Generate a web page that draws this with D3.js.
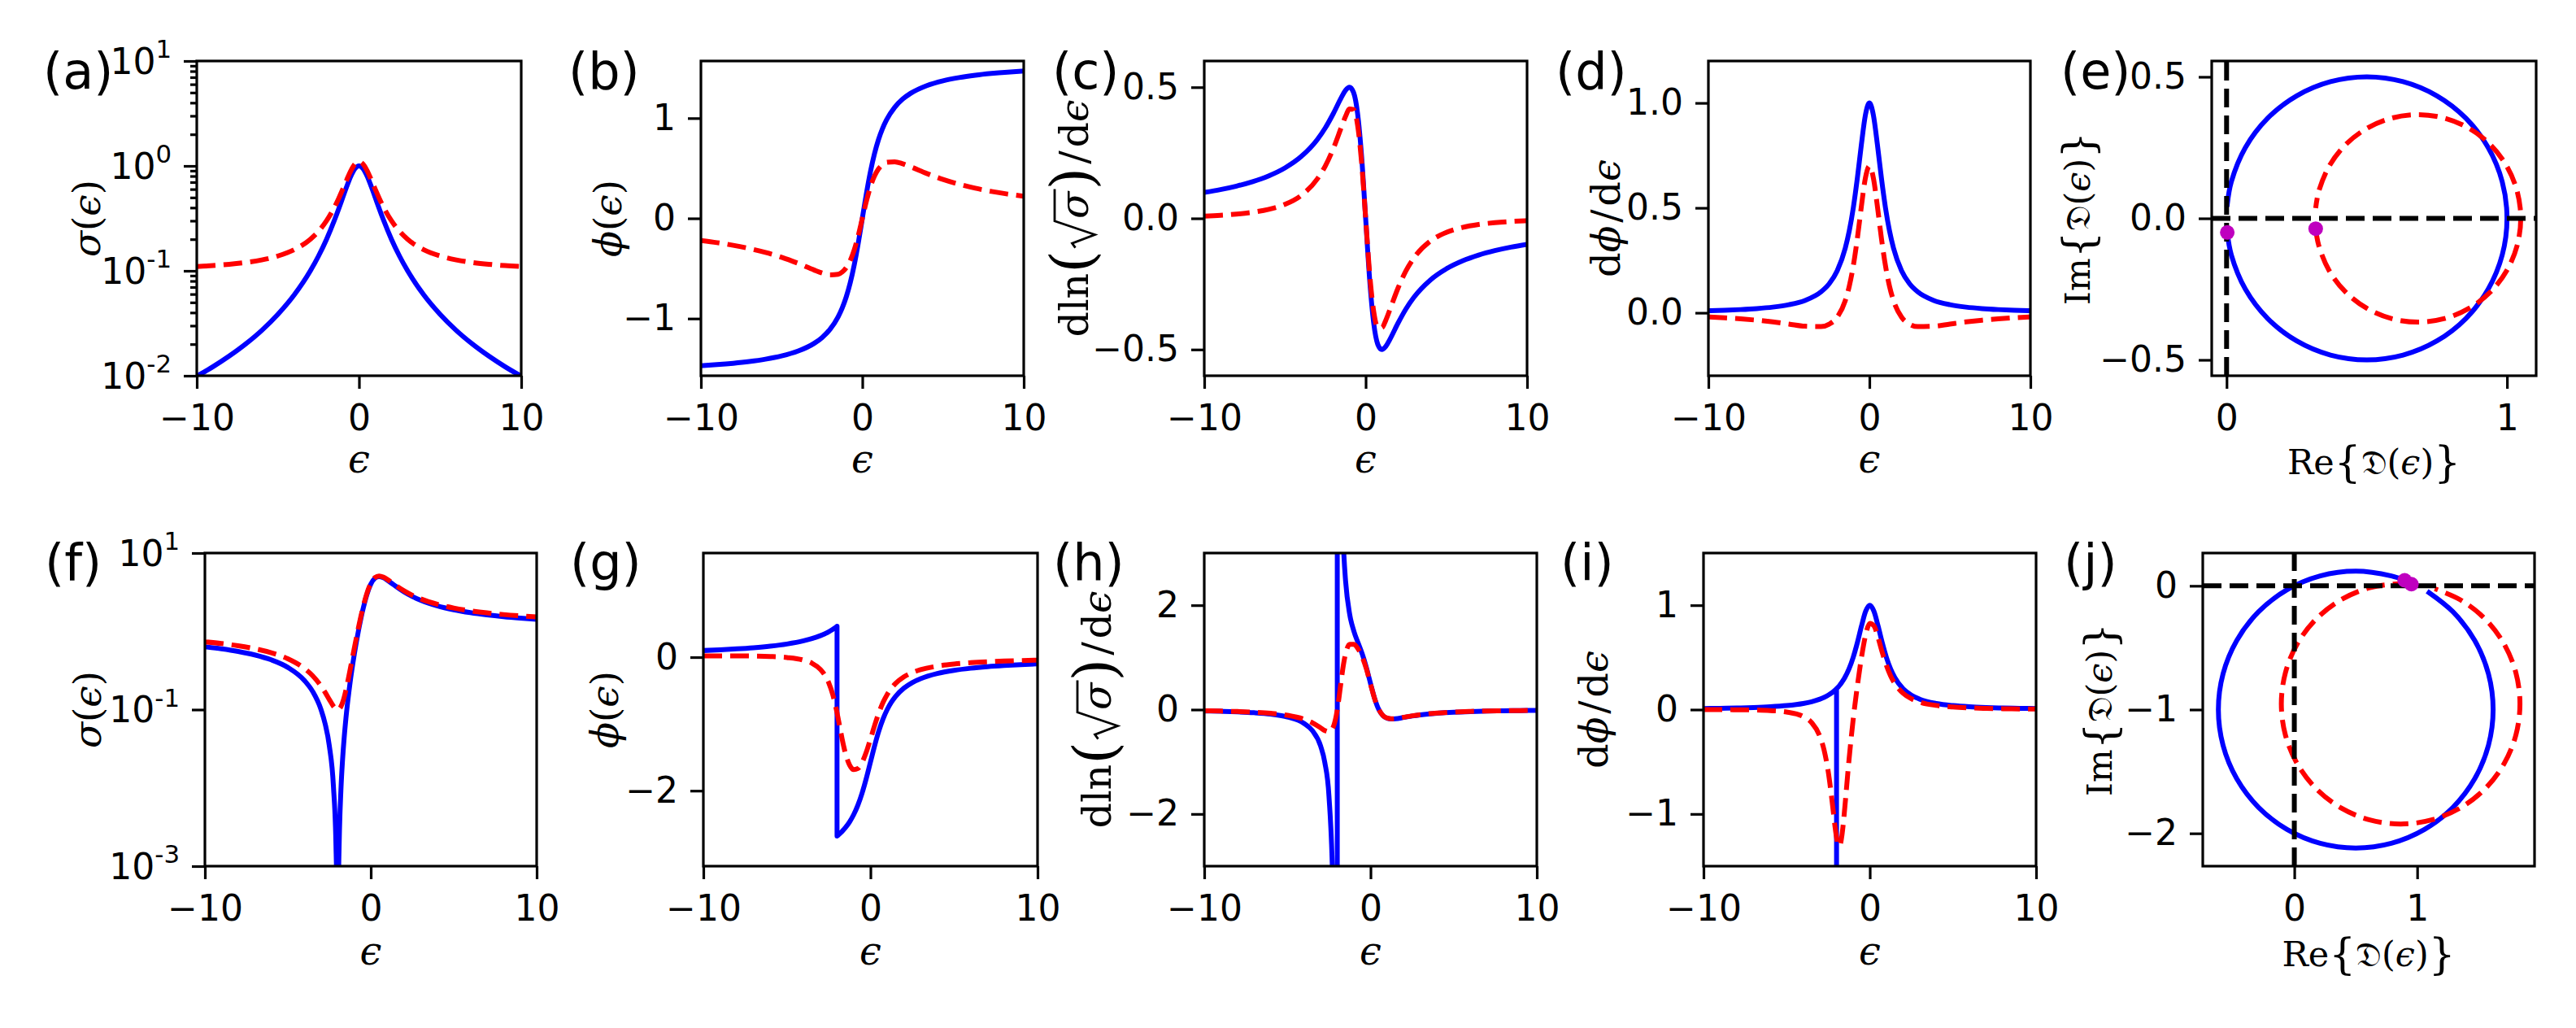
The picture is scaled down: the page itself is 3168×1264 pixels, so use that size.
<!DOCTYPE html>
<html><head><meta charset="utf-8">
<script src="https://cdn.jsdelivr.net/npm/d3@7"></script>
<style>body{margin:0;background:#fff}svg{display:block}</style>
</head><body>
<svg id="c" width="3168" height="1264"></svg>
<script>
// ---------------- DATA ----------------
// top row energy grid
const epsTop = [-10,-9,-8,-7,-6,-5,-4,-3,-2.5,-2,-1.5,-1.25,-1,-0.75,-0.5,-0.25,0,0.25,0.5,0.75,1,1.25,1.5,2,2.5,3,4,5,6,7,8,9,10];
const sigmaBlueTop = [0.0099,0.0122,0.0154,0.02,0.027,0.0385,0.0588,0.1,0.1379,0.2,0.3077,0.3902,0.5,0.64,0.8,0.9412,1,0.9412,0.8,0.64,0.5,0.3902,0.3077,0.2,0.1379,0.1,0.0588,0.0385,0.027,0.02,0.0154,0.0122,0.0099];
const sigmaRedTop = [0.1099,0.1122,0.1154,0.12,0.127,0.1385,0.1588,0.2,0.2379,0.3,0.4077,0.4902,0.6,0.74,0.9,1.0412,1.1,1.0412,0.9,0.74,0.6,0.4902,0.4077,0.3,0.2379,0.2,0.1588,0.1385,0.127,0.12,0.1154,0.1122,0.1099];
const phiBlueTop = [-1.4711,-1.4601,-1.4464,-1.4289,-1.4056,-1.3734,-1.3258,-1.249,-1.1903,-1.1071,-0.9828,-0.8961,-0.7854,-0.6435,-0.4636,-0.245,0,0.245,0.4636,0.6435,0.7854,0.8961,0.9828,1.1071,1.1903,1.249,1.3258,1.3734,1.4056,1.4289,1.4464,1.4601,1.4711];
const phiRedTop = [-0.2209,-0.2427,-0.269,-0.301,-0.3403,-0.3887,-0.4478,-0.5144,-0.545,-0.5648,-0.5587,-0.5358,-0.4927,-0.4213,-0.3143,-0.1698,0,0.1698,0.3143,0.4213,0.4927,0.5358,0.5587,0.5648,0.545,0.5144,0.4478,0.3887,0.3403,0.301,0.269,0.2427,0.2209];
const dlnBlueTop = [0.099,0.1098,0.1231,0.14,0.1622,0.1923,0.2353,0.3,0.3448,0.4,0.4615,0.4878,0.5,0.48,0.4,0.2353,0,-0.2353,-0.4,-0.48,-0.5,-0.4878,-0.4615,-0.4,-0.3448,-0.3,-0.2353,-0.1923,-0.1622,-0.14,-0.1231,-0.1098,-0.099];
const dlnRedTop = [0.0089,0.0119,0.0164,0.0233,0.0345,0.0534,0.0872,0.15,0.1999,0.2667,0.3483,0.3883,0.4167,0.4151,0.3556,0.2127,0,-0.2127,-0.3556,-0.4151,-0.4167,-0.3883,-0.3483,-0.2667,-0.1999,-0.15,-0.0872,-0.0534,-0.0345,-0.0233,-0.0164,-0.0119,-0.0089];
const dphiBlueTop = [0.0099,0.0122,0.0154,0.02,0.027,0.0385,0.0588,0.1,0.1379,0.2,0.3077,0.3902,0.5,0.64,0.8,0.9412,1,0.9412,0.8,0.64,0.5,0.3902,0.3077,0.2,0.1379,0.1,0.0588,0.0385,0.027,0.02,0.0154,0.0122,0.0099];
const dphiRedTop = [-0.02,-0.0239,-0.0289,-0.0353,-0.0436,-0.0537,-0.064,-0.0658,-0.0543,-0.021,0.0575,0.1264,0.2238,0.3534,0.5054,0.6416,0.6988,0.6416,0.5054,0.3534,0.2238,0.1264,0.0575,-0.021,-0.0543,-0.0658,-0.064,-0.0537,-0.0436,-0.0353,-0.0289,-0.0239,-0.02];
// panel (e): complex plane traces
const reBlueE = [0.0025,0.017,0.067,0.1464,0.25,0.3706,0.5,0.6294,0.75,0.8536,0.933,0.983,1,0.983,0.933,0.8536,0.75,0.6294,0.5,0.3706,0.25,0.1464,0.067,0.017,0.0025];
const imBlueE = [-0.0498,-0.1294,-0.25,-0.3536,-0.433,-0.483,-0.5,-0.483,-0.433,-0.3536,-0.25,-0.1294,0,0.1294,0.25,0.3536,0.433,0.483,0.5,0.483,0.433,0.3536,0.25,0.1294,0.0498];
const reRedE = [0.3178,0.3285,0.3651,0.4233,0.4993,0.5876,0.6825,0.7774,0.8658,0.9417,0.9999,1.0365,1.049,1.0365,0.9999,0.9417,0.8658,0.7774,0.6825,0.5876,0.4993,0.4233,0.3651,0.3285,0.3178];
const imRedE = [-0.0365,-0.0949,-0.1833,-0.2592,-0.3174,-0.354,-0.3665,-0.354,-0.3174,-0.2592,-0.1833,-0.0949,0,0.0949,0.1833,0.2592,0.3174,0.354,0.3665,0.354,0.3174,0.2592,0.1833,0.0949,0.0365];
const dotReE = [0.0025,0.3178];
const dotImE = [-0.0498,-0.0365];

// bottom row grids
const epsBotJ = [-10,-9,-8,-7,-6,-5,-4,-3.5,-3,-2.75,-2.5,-2.25,-2.1,-2.05,-2.02,-2.0001,-2,-1.9999,-1.98,-1.95,-1.9,-1.8,-1.7,-1.6,-1.5,-1.25,-1,-0.75,-0.5,-0.25,0,0.25,0.5,0.75,1,1.25,1.5,2,2.5,3,4,5,6,7,8,9,10];
const epsBot = [-10,-9,-8,-7,-6,-5,-4,-3.5,-3,-2.75,-2.5,-2.25,-2.1,-2.05,-2,-1.95,-1.9,-1.8,-1.7,-1.6,-1.5,-1.25,-1,-0.75,-0.5,-0.25,0,0.25,0.5,0.75,1,1.25,1.5,2,2.5,3,4,5,6,7,8,9,10];
const sigmaBlueBot = [0.6337,0.5976,0.5538,0.5,0.4324,0.3462,0.2353,0.1698,0.1,0.06569,0.03448,0.01031,0.001848,0.000481,0.0000787,2e-9,1e-9,2e-9,0.0000813,0.000521,0.002169,0.009434,0.02314,0.04494,0.07692,0.2195,0.5,1.0,1.8,2.882,4,4.765,5.0,4.84,4.5,4.122,3.769,3.2,2.793,2.5,2.118,1.885,1.73,1.62,1.538,1.476,1.426];
const sigmaRedBot = [0.7337,0.6976,0.6538,0.6,0.5324,0.4462,0.3353,0.2698,0.2,0.1657,0.1345,0.1103,0.1018,0.1005,0.1,0.1005,0.1022,0.1094,0.1231,0.1449,0.1769,0.3195,0.6,1.1,1.9,2.982,4.1,4.865,5.1,4.94,4.6,4.222,3.869,3.3,2.893,2.6,2.218,1.985,1.83,1.72,1.638,1.576,1.526];
const phiBlueBot = [0.0997,0.1107,0.1244,0.1419,0.1651,0.1974,0.245,0.2783,0.3218,0.3488,0.3805,0.4182,0.4444,0.4537,0.4594,0.4636,-1.107,-2.678,-2.6738,-2.6681,-2.6571,-2.6345,-2.6099,-2.583,-2.5536,-2.4669,-2.3562,-2.2143,-2.0344,-1.8158,-1.5708,-1.3258,-1.1071,-0.9273,-0.7854,-0.6747,-0.588,-0.4636,-0.3805,-0.3218,-0.245,-0.1974,-0.1651,-0.1419,-0.1244,-0.1107,-0.0997];
const phiRedBot = [0.0204,0.0204,0.0196,0.0171,0.011,-0.0041,-0.0445,-0.0904,-0.181,-0.2603,-0.3809,-0.566,-0.7173,-0.7741,-0.8334,-0.8968,-0.9608,-1.0914,-1.2187,-1.3358,-1.438,-1.6141,-1.6844,-1.6677,-1.5761,-1.4226,-1.2272,-1.0212,-0.8338,-0.6794,-0.5587,-0.466,-0.3946,-0.295,-0.2311,-0.1877,-0.1337,-0.1024,-0.0822,-0.0683,-0.0583,-0.0506,-0.0447];
const dlnBlueBot = [-0.026,-0.0331,-0.0436,-0.06,-0.0878,-0.141,-0.2647,-0.4025,-0.7,-1.0122,-1.6552,-3.6289,-9.612,-19.606,-49.602,-500,0,500,50.402,20.406,10.412,5.4245,3.7704,2.9494,2.4615,1.8211,1.5,1.28,1.0667,0.8067,0.5,0.2092,0,-0.1164,-0.1667,-0.1801,-0.1758,-0.15,-0.1226,-0.1,-0.0686,-0.0495,-0.0372,-0.0289,-0.0231,-0.0189,-0.0157];
const dlnRedBot = [-0.0225,-0.0284,-0.0369,-0.05,-0.0713,-0.1094,-0.1858,-0.2533,-0.35,-0.4013,-0.4244,-0.3391,-0.1744,-0.0938,0,0.1057,0.2211,0.4676,0.7084,0.9146,1.0702,1.2512,1.25,1.1636,1.0105,0.7797,0.4878,0.2049,0,-0.114,-0.163,-0.1758,-0.1713,-0.1455,-0.1184,-0.0962,-0.0655,-0.047,-0.0351,-0.0272,-0.0217,-0.0177,-0.0146];
const dphiBlueBot = [0.0099,0.0122,0.0154,0.02,0.027,0.0385,0.0588,0.0755,0.1,0.1168,0.1379,0.1649,0.1848,0.1922,0.1968,0.2,-100,0.2,0.2032,0.2082,0.2169,0.2358,0.2571,0.2809,0.3077,0.3902,0.5,0.64,0.8,0.9412,1,0.9412,0.8,0.64,0.5,0.3902,0.3077,0.2,0.1379,0.1,0.0588,0.0385,0.027,0.02,0.0154,0.0122,0.0099];
const dphiRedBot = [0.0003,-0.0003,-0.0014,-0.0038,-0.0093,-0.0232,-0.0666,-0.1244,-0.2572,-0.3867,-0.5944,-0.9022,-1.1099,-1.1724,-1.2266,-1.2693,-1.2975,-1.3015,-1.2323,-1.102,-0.9337,-0.4821,-0.0955,0.2242,0.499,0.7156,0.8256,0.8029,0.6878,0.5474,0.4223,0.3242,0.2508,0.1567,0.1038,0.0725,0.0399,0.0246,0.0165,0.0117,0.0087,0.0067,0.0053];
// panel (j)
const reBlueJ = [0.898,0.7894,0.5,0.2106,-0.059,-0.2906,-0.4682,-0.5799,-0.618,-0.5799,-0.4682,-0.2906,-0.059,0.2106,0.5,0.7894,1.059,1.2906,1.4682,1.5799,1.618,1.5799,1.4682,1.2906,1.097];
const imBlueJ = [0.0449,0.0799,0.118,0.0799,-0.0318,-0.2094,-0.441,-0.7107,-1,-1.2893,-1.559,-1.7906,-1.9682,-2.0799,-2.118,-2.0799,-1.9682,-1.7906,-1.559,-1.2893,-1,-0.7107,-0.441,-0.2094,-0.0549];
const reRedJ = [0.953,0.8654,0.6141,0.3799,0.1788,0.0245,-0.0725,-0.1056,-0.0725,0.0245,0.1788,0.3799,0.6141,0.8654,1.1167,1.3509,1.552,1.7063,1.8033,1.8364,1.8033,1.7063,1.552,1.3509,1.1432];
const imRedJ = [0.0136,0.0175,-0.0156,-0.1126,-0.2669,-0.468,-0.7022,-0.9535,-1.2048,-1.439,-1.6401,-1.7944,-1.8914,-1.9245,-1.8914,-1.7944,-1.6401,-1.439,-1.2048,-0.9535,-0.7022,-0.468,-0.2669,-0.1126,-0.0231];
const dotReJ = [0.898,0.953];
const dotImJ = [0.0449,0.0136];

// tick labels
const epsTicks = [-10,0,10];
const logTicksA = [0.01,0.1,1,10];
const logExpA = ['-2','-1','0','1'];
const logMinorA = [0.02,0.03,0.04,0.05,0.06,0.07,0.08,0.09,0.2,0.3,0.4,0.5,0.6,0.7,0.8,0.9,2,3,4,5,6,7,8,9];
const logTicksF = [0.001,0.1,10];
const logExpF = ['-3','-1','1'];
const panelLetters = ['(a)','(b)','(c)','(d)','(e)','(f)','(g)','(h)','(i)','(j)'];

// ---------------- DRAWING ----------------
const W = 3168, H = 1264;
const svg = d3.select('#c');
svg.append('rect').attr('width', W).attr('height', H).attr('fill', '#fff');
const defs = svg.append('defs');
const FS = 44, LW = 6, SPW = 3.2, TICK = 16, DASH = '23,10';
const SANS = "'DejaVu Sans', sans-serif", SERIF = "'DejaVu Serif', serif";
const BLUE = '#0000ff', RED = '#ff0000', MAG = '#bf00bf';
const fmtInt = d3.format('d'), fmt1 = d3.format('.1f');

function S(x, y, color, dash, curve) { return {x, y, color, dash, curve}; }

const T = {t: 75, b: 462}, B = {t: 680, b: 1065};
const panels = [
  {id:'a', l:242, r:641, ...T, xdom:[-10,10], ydom:[0.01,10], ylog:true, yticks:logTicksA, yexp:logExpA, yminor:logMinorA,
   series:[S(epsTop,sigmaBlueTop,BLUE,false), S(epsTop,sigmaRedTop,RED,true)],
   lab:[53,109], ylab:'sigma', ylx:107},
  {id:'b', l:862, r:1259, ...T, xdom:[-10,10], ydom:[-1.5708,1.5708], yticks:[-1,0,1], yfmt:fmtInt,
   series:[S(epsTop,phiBlueTop,BLUE,false), S(epsTop,phiRedTop,RED,true)],
   lab:[699,109], ylab:'phi', ylx:748},
  {id:'c', l:1481, r:1878, ...T, xdom:[-10,10], ydom:[-0.6,0.6], yticks:[-0.5,0,0.5], yfmt:fmt1,
   series:[S(epsTop,dlnBlueTop,BLUE,false), S(epsTop,dlnRedTop,RED,true)],
   lab:[1294,109], ylab:'dln', ylx:1322},
  {id:'d', l:2101, r:2497, ...T, xdom:[-10,10], ydom:[-0.3,1.2], yticks:[0,0.5,1], yfmt:fmt1,
   series:[S(epsTop,dphiBlueTop,BLUE,false), S(epsTop,dphiRedTop,RED,true)],
   lab:[1913,109], ylab:'dphi', ylx:1976},
  {id:'e', l:2720, r:3119, ...T, xdom:[-0.053,1.104], ydom:[-0.556,0.556], xticks:[0,1], xfmt:fmtInt, yticks:[-0.5,0,0.5], yfmt:fmt1,
   series:[S(reBlueE,imBlueE,BLUE,false,d3.curveCatmullRom), S(reRedE,imRedE,RED,true,d3.curveCatmullRom)],
   ref:true, dots:[dotReE,dotImE], lab:[2534,109], ylab:'im', ylx:2556, xlab:'re'},
  {id:'f', l:252, r:660, ...B, xdom:[-10,10], ydom:[0.001,10], ylog:true, yticks:logTicksF, yexp:logExpF, yminor:[],
   series:[S(epsBotJ,sigmaBlueBot,BLUE,false), S(epsBot,sigmaRedBot,RED,true)],
   lab:[55,713], ylab:'sigma', ylx:108},
  {id:'g', l:865, r:1276, ...B, xdom:[-10,10], ydom:[-3.13,1.56], yticks:[-2,0], yfmt:fmtInt,
   series:[S(epsBotJ,phiBlueBot,BLUE,false), S(epsBot,phiRedBot,RED,true)],
   lab:[701,713], ylab:'phi', ylx:744},
  {id:'h', l:1481, r:1890, ...B, xdom:[-10,10], ydom:[-3,3], yticks:[-2,0,2], yfmt:fmtInt,
   series:[S(epsBotJ,dlnBlueBot,BLUE,false), S(epsBot,dlnRedBot,RED,true)],
   lab:[1295,713], ylab:'dln', ylx:1350},
  {id:'i', l:2095, r:2504, ...B, xdom:[-10,10], ydom:[-1.5,1.5], yticks:[-1,0,1], yfmt:fmtInt,
   series:[S(epsBotJ,dphiBlueBot,BLUE,false), S(epsBot,dphiRedBot,RED,true)],
   lab:[1919,713], ylab:'dphi', ylx:1961},
  {id:'j', l:2709, r:3117, ...B, xdom:[-0.745,1.955], ydom:[-2.265,0.265], xticks:[0,1], xfmt:fmtInt, yticks:[-2,-1,0], yfmt:fmtInt,
   series:[S(reBlueJ,imBlueJ,BLUE,false,d3.curveCatmullRom), S(reRedJ,imRedJ,RED,true,d3.curveCatmullRom)],
   ref:true, dots:[dotReJ,dotImJ], lab:[2538,713], ylab:'im', ylx:2583, xlab:'re'}
];

// label pieces: t text, i italic, s size factor, dx/dy offsets in em
const LABELS = {
  sigma: {fs:47, parts:[{t:'σ',i:1},{t:'('},{t:'ϵ',i:1},{t:')'}]},
  phi:   {fs:47, parts:[{t:'ϕ',i:1},{t:'('},{t:'ϵ',i:1},{t:')'}]},
  dphi:  {fs:48, parts:[{t:'d'},{t:'ϕ',i:1},{t:'/',dx:0.08},{t:'d',dx:0.08},{t:'ϵ',i:1}]},
  dln:   {fs:49, parts:[{t:'dln'},{t:'(',s:1.45,dy:0.1},{t:'σ',i:1,dx:0.8,dy:-0.1,rad:1},{t:')',s:1.45,dx:0.04,dy:0.1},{t:'/',dx:0.08,dy:-0.1},{t:'d',dx:0.08},{t:'ϵ',i:1}]},
  im:    {fs:43, parts:[{t:'Im'},{t:'{',s:1.2,dy:0.08},{t:'𝔇',dy:-0.08},{t:'('},{t:'ϵ',i:1},{t:')'},{t:'}',s:1.2,dy:0.08}]},
  re:    {fs:43, parts:[{t:'Re'},{t:'{',s:1.2,dy:0.08},{t:'𝔇',dy:-0.08},{t:'('},{t:'ϵ',i:1},{t:')'},{t:'}',s:1.2,dy:0.08}]},
  eps:   {fs:48, parts:[{t:'ϵ',i:1}]}
};

function mathLabel(key, cx, cy, rotate) {
  const L = LABELS[key], fs = L.fs;
  const g = svg.append('g').attr('transform', `translate(${cx},${cy})` + (rotate ? ' rotate(-90)' : ''));
  const yb = rotate ? 0.33 * fs : 0;
  const t = g.append('text').attr('text-anchor', 'middle').attr('font-family', SERIF)
    .attr('font-size', fs).attr('y', yb).attr('fill', '#000');
  let idx = 0, radIdx = -1;
  L.parts.forEach(p => {
    const ts = t.append('tspan').text(p.t);
    if (p.i) ts.attr('font-style', 'italic');
    if (p.s) ts.attr('font-size', fs * p.s);
    if (p.dx) ts.attr('dx', p.dx * fs);
    if (p.dy) ts.attr('dy', p.dy * fs);
    if (p.rad) radIdx = idx;
    idx += p.t.length;
  });
  if (radIdx >= 0) {
    const node = t.node();
    const eA = node.getExtentOfChar(radIdx - 1), eS = node.getExtentOfChar(radIdx);
    const x0 = eA.x + eA.width, xe = eS.x + eS.width;
    const p = d3.path();
    p.moveTo(x0 + 0.07 * fs, yb - 0.32 * fs);
    p.lineTo(x0 + 0.18 * fs, yb - 0.40 * fs);
    p.lineTo(x0 + 0.40 * fs, yb + 0.17 * fs);
    p.lineTo(x0 + 0.74 * fs, yb - 0.84 * fs);
    p.lineTo(xe + 0.06 * fs, yb - 0.84 * fs);
    g.append('path').attr('d', p.toString()).attr('fill', 'none').attr('stroke', '#000')
      .attr('stroke-width', 2.8).attr('stroke-linejoin', 'miter');
  }
}

panels.forEach((c, k) => {
  const x = d3.scaleLinear().domain(c.xdom).range([c.l, c.r]);
  const y = (c.ylog ? d3.scaleLog() : d3.scaleLinear()).domain(c.ydom).range([c.b, c.t]);
  defs.append('clipPath').attr('id', 'clip-' + c.id).append('rect')
    .attr('x', c.l).attr('y', c.t).attr('width', c.r - c.l).attr('height', c.b - c.t);
  const plot = svg.append('g').attr('clip-path', `url(#clip-${c.id})`);
  c.series.forEach(s => {
    const line = d3.line().x(d => x(d[0])).y(d => y(d[1])).curve(s.curve || d3.curveMonotoneX);
    plot.append('path').attr('d', line(d3.zip(s.x, s.y))).attr('fill', 'none')
      .attr('stroke', s.color).attr('stroke-width', LW)
      .attr('stroke-dasharray', s.dash ? DASH : null)
      .attr('stroke-linejoin', 'round').attr('stroke-linecap', s.dash ? 'butt' : 'square');
  });
  if (c.ref) {
    plot.append('line').attr('x1', c.l).attr('x2', c.r).attr('y1', y(0)).attr('y2', y(0))
      .attr('stroke', '#000').attr('stroke-width', LW).attr('stroke-dasharray', DASH);
    plot.append('line').attr('x1', x(0)).attr('x2', x(0)).attr('y1', c.b).attr('y2', c.t)
      .attr('stroke', '#000').attr('stroke-width', LW).attr('stroke-dasharray', DASH);
  }
  if (c.dots) {
    c.dots[0].forEach((re, i) => {
      svg.append('circle').attr('cx', x(re)).attr('cy', y(c.dots[1][i])).attr('r', 9).attr('fill', MAG);
    });
  }
  // spines
  svg.append('rect').attr('x', c.l).attr('y', c.t).attr('width', c.r - c.l).attr('height', c.b - c.t)
    .attr('fill', 'none').attr('stroke', '#000').attr('stroke-width', SPW);
  // axes
  const gx = svg.append('g').attr('transform', `translate(0,${c.b})`)
    .call(d3.axisBottom(x).tickValues(c.xticks || epsTicks).tickSize(TICK).tickPadding(20).tickFormat(c.xfmt || fmtInt));
  const gy = svg.append('g').attr('transform', `translate(${c.l},0)`)
    .call(d3.axisLeft(y).tickValues(c.yticks).tickSize(TICK).tickPadding(15).tickFormat(c.ylog ? () => '' : c.yfmt));
  const parts = [gx, gy];
  if (c.ylog && c.yminor.length) {
    parts.push(svg.append('g').attr('transform', `translate(${c.l},0)`)
      .call(d3.axisLeft(y).tickValues(c.yminor).tickSize(8).tickFormat(() => '')));
  }
  parts.forEach(g => {
    g.select('.domain').remove();
    g.attr('font-size', FS).attr('font-family', SANS);
    g.selectAll('.tick line').attr('stroke', '#000').attr('stroke-width', SPW);
    g.selectAll('.tick text').attr('fill', '#000');
  });
  if (c.ylog) {
    c.yticks.forEach((v, i) => {
      const t = svg.append('text').attr('x', c.l - TICK - 15).attr('y', y(v) + 0.36 * FS)
        .attr('text-anchor', 'end').attr('font-family', SANS).attr('font-size', FS).attr('fill', '#000');
      t.append('tspan').text('10');
      t.append('tspan').attr('font-size', FS * 0.7).attr('dy', -0.45 * FS).text(c.yexp[i]);
    });
  }
  // labels
  const xb = c.b === T.b ? 581 : 1186;
  mathLabel(c.xlab || 'eps', (c.l + c.r) / 2, c.xlab ? xb + 2 : xb, false);
  mathLabel(c.ylab, c.ylx, (c.t + c.b) / 2, true);
  svg.append('text').attr('x', c.lab[0]).attr('y', c.lab[1]).attr('font-family', SANS)
    .attr('font-size', 62).attr('fill', '#000').text(panelLetters[k]);
});
</script>
</body></html>
